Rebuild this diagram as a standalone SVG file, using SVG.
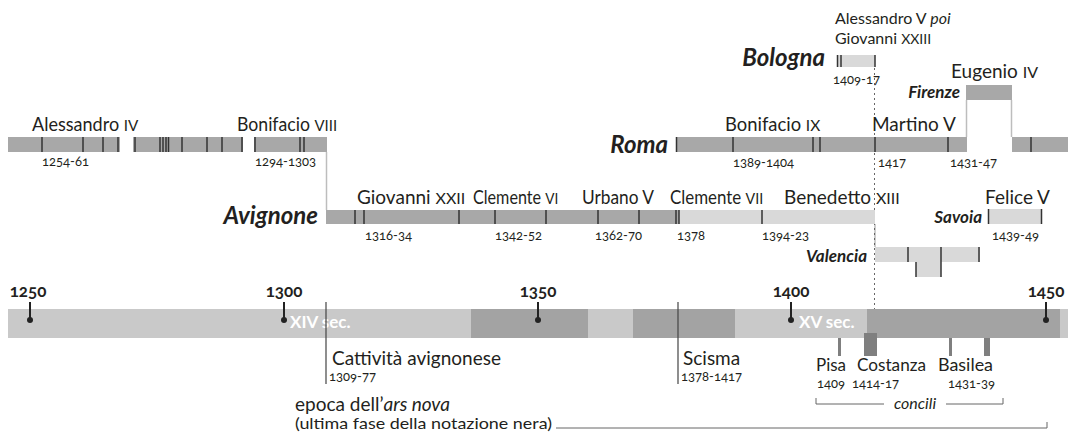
<svg xmlns="http://www.w3.org/2000/svg" width="1068" height="434" viewBox="0 0 1068 434">
<style>
text{font-family:Lato,"Open Sans","Liberation Sans",sans-serif;fill:#231f20}
.n{font-size:19px}
.c{font-size:17px}
.sc{font-size:16px}
.d{font-size:13px;font-variant-numeric:oldstyle-nums}
.p{font-size:24px;font-weight:bold;font-style:italic}
.ps{font-size:17px;font-weight:bold;font-style:italic}
.yr{font-size:17px;font-weight:bold;text-anchor:middle;font-variant-numeric:oldstyle-nums}
.sec{font-size:17px;font-weight:bold;fill:#ffffff}
.dk{fill:#a8a8a8}
.lt{fill:#d9d9d9}
.tl{fill:#c9c9c9}
.td{fill:#a3a3a3}
.cb{fill:#7f7f7f}
.tk{stroke:#333;stroke-width:1.5}
.conn{stroke:#bdbdbd;stroke-width:1.5;fill:none}
.ln{stroke:#444;stroke-width:1.2;fill:none}
.thin{stroke:#666;stroke-width:1;fill:none}
.dot{stroke:#666;stroke-width:1;stroke-dasharray:2 3;fill:none}
.pin{stroke:#222;stroke-width:2}
</style>

<g id="connectors">
  <line class="conn" x1="326.5" y1="152" x2="326.5" y2="210"/>
  <line class="conn" x1="875" y1="224" x2="875" y2="247"/>
  <line class="conn" x1="966.5" y1="100" x2="966.5" y2="137"/>
  <line class="conn" x1="1011.5" y1="100" x2="1011.5" y2="137"/>
  <line class="dot" x1="874.5" y1="68" x2="874.5" y2="309"/>
</g>

<g id="early-rome">
  <rect class="dk" x="8" y="137" width="112" height="15"/>
  <rect class="dk" x="133" y="137" width="110" height="15"/>
  <rect class="dk" x="254" y="137" width="73" height="15"/>
  <g class="tk">
    <line x1="42" y1="137" x2="42" y2="152"/><line x1="83" y1="137" x2="83" y2="152"/>
    <line x1="103" y1="137" x2="103" y2="152"/><line x1="118" y1="137" x2="118" y2="152"/>
    <line x1="135" y1="137" x2="135" y2="152"/><line x1="160" y1="137" x2="160" y2="152"/>
    <line x1="163" y1="137" x2="163" y2="152"/><line x1="166" y1="137" x2="166" y2="152"/>
    <line x1="168.5" y1="137" x2="168.5" y2="152"/><line x1="182" y1="137" x2="182" y2="152"/>
    <line x1="207" y1="137" x2="207" y2="152"/><line x1="222" y1="137" x2="222" y2="152"/>
    <line x1="242" y1="137" x2="242" y2="152"/><line x1="255" y1="137" x2="255" y2="152"/>
    <line x1="300" y1="137" x2="300" y2="152"/><line x1="304" y1="137" x2="304" y2="152"/>
  </g>
  <text class="n" transform="translate(32,131) scale(0.95,1)">Alessandro <tspan class="sc">IV</tspan></text>
  <text class="n" transform="translate(237,131) scale(0.93,1)">Bonifacio <tspan class="sc">VIII</tspan></text>
  <text class="d" x="42" y="166">1254-61</text>
  <text class="d" x="255" y="166">1294-1303</text>
</g>

<g id="roma">
  <text class="p" x="668" y="153" text-anchor="end" font-size="25px">Roma</text>
  <rect class="dk" x="676" y="137" width="291" height="15"/>
  <rect class="dk" x="1012" y="137" width="56" height="15"/>
  <g class="tk">
    <line x1="676.5" y1="137" x2="676.5" y2="152"/><line x1="733" y1="137" x2="733" y2="152"/>
    <line x1="813" y1="137" x2="813" y2="152"/><line x1="820" y1="137" x2="820" y2="152"/>
    <line x1="875" y1="137" x2="875" y2="152"/><line x1="948" y1="137" x2="948" y2="152"/>
    <line x1="1031" y1="137" x2="1031" y2="152"/>
  </g>
  <text class="n" transform="translate(725,131) scale(0.97,1)">Bonifacio <tspan class="sc">IX</tspan></text>
  <text class="n" x="872" y="131">Martino V</text>
  <text class="d" x="733" y="167">1389-1404</text>
  <text class="d" x="878" y="167">1417</text>
  <text class="d" x="950" y="167">1431-47</text>
</g>

<g id="firenze">
  <rect class="dk" x="966" y="85" width="46" height="15"/>
  <text class="ps" x="960" y="98" text-anchor="end" font-size="16px">Firenze</text>
  <text class="n" x="951" y="78">Eugenio <tspan class="sc">IV</tspan></text>
</g>

<g id="bologna">
  <text class="p" x="825" y="66" text-anchor="end">Bologna</text>
  <rect class="lt" x="837" y="55" width="38" height="12"/>
  <g class="tk">
    <line x1="837.5" y1="55" x2="837.5" y2="67"/><line x1="841" y1="55" x2="841" y2="67"/>
    <line x1="875" y1="55" x2="875" y2="67"/>
  </g>
  <text class="sc" x="835" y="24">Alessandro V <tspan font-style="italic">poi</tspan></text>
  <text class="sc" x="835" y="44">Giovanni <tspan font-size="14px">XXIII</tspan></text>
  <text class="d" x="833" y="84">1409-17</text>
</g>

<g id="avignone">
  <text class="p" x="318" y="224" text-anchor="end">Avignone</text>
  <rect class="dk" x="326" y="210" width="353" height="14"/>
  <rect class="lt" x="679" y="210" width="196" height="14"/>
  <g class="tk">
    <line x1="355" y1="210" x2="355" y2="224"/><line x1="364" y1="210" x2="364" y2="224"/>
    <line x1="459" y1="210" x2="459" y2="224"/><line x1="495" y1="210" x2="495" y2="224"/>
    <line x1="546" y1="210" x2="546" y2="224"/><line x1="598" y1="210" x2="598" y2="224"/>
    <line x1="639" y1="210" x2="639" y2="224"/><line x1="676" y1="210" x2="676" y2="224"/>
    <line x1="679" y1="210" x2="679" y2="224"/><line x1="762" y1="210" x2="762" y2="224"/>
  </g>
  <text class="n" x="357" y="204">Giovanni <tspan class="sc">XXII</tspan></text>
  <text class="n" transform="translate(473,204) scale(0.85,1)">Clemente <tspan class="sc">VI</tspan></text>
  <text class="n" transform="translate(582,204) scale(0.91,1)">Urbano V</text>
  <text class="n" transform="translate(670,204) scale(0.89,1)">Clemente <tspan class="sc">VII</tspan></text>
  <text class="n" x="784" y="204">Benedetto <tspan class="sc">XIII</tspan></text>
  <text class="d" x="365" y="240">1316-34</text>
  <text class="d" x="495" y="240">1342-52</text>
  <text class="d" x="595" y="240">1362-70</text>
  <text class="d" x="677" y="240">1378</text>
  <text class="d" x="762" y="240">1394-23</text>
</g>

<g id="valencia">
  <text class="ps" x="867" y="262" text-anchor="end" font-size="18px">Valencia</text>
  <rect class="lt" x="875" y="247" width="105" height="15"/>
  <rect class="lt" x="916" y="262" width="25" height="15"/>
  <g class="tk">
    <line x1="908" y1="247" x2="908" y2="262"/><line x1="941" y1="247" x2="941" y2="277"/>
    <line x1="979" y1="247" x2="979" y2="262"/><line x1="916" y1="262" x2="916" y2="277"/>
  </g>
</g>

<g id="savoia">
  <text class="ps" x="982" y="223" text-anchor="end" font-size="18.5px">Savoia</text>
  <rect class="lt" x="988" y="209" width="54" height="15"/>
  <g class="tk">
    <line x1="988.5" y1="209" x2="988.5" y2="224"/><line x1="1041.5" y1="209" x2="1041.5" y2="224"/>
  </g>
  <text class="n" x="985" y="204">Felice V</text>
  <text class="d" x="992" y="240">1439-49</text>
</g>

<g id="timeline">
  <rect class="tl" x="8" y="309" width="1060" height="29"/>
  <rect class="td" x="471" y="309" width="117" height="29"/>
  <rect class="td" x="633" y="309" width="102" height="29"/>
  <rect class="td" x="867" y="309" width="193" height="29"/>
  <text class="sec" x="290" y="328">XIV sec.</text>
  <text class="sec" x="799" y="328">XV sec.</text>
  <g class="pin">
    <line x1="30" y1="302" x2="30" y2="319"/><line x1="284" y1="302" x2="284" y2="319"/>
    <line x1="538" y1="302" x2="538" y2="319"/><line x1="791" y1="302" x2="791" y2="319"/>
    <line x1="1046" y1="302" x2="1046" y2="319"/>
  </g>
  <g fill="#222">
    <circle cx="30" cy="320" r="3"/><circle cx="284" cy="320" r="3"/>
    <circle cx="538" cy="320" r="3"/><circle cx="791" cy="320" r="3"/>
    <circle cx="1046" cy="320" r="3"/>
  </g>
  <text class="yr" x="28" y="297">1250</text>
  <text class="yr" x="284" y="297">1300</text>
  <text class="yr" x="538" y="297">1350</text>
  <text class="yr" x="791" y="297">1400</text>
  <text class="yr" x="1046" y="297">1450</text>
</g>

<g id="cattivita">
  <line class="ln" x1="326" y1="302" x2="326" y2="384"/>
  <text class="n" x="332" y="365" font-size="20px">Cattività avignonese</text>
  <text class="d" x="329" y="381">1309-77</text>
</g>

<g id="scisma">
  <line class="ln" x1="678" y1="302" x2="678" y2="384"/>
  <text class="n" x="683" y="365">Scisma</text>
  <text class="d" x="681" y="381">1378-1417</text>
</g>

<g id="concili">
  <rect class="cb" x="838" y="338" width="3" height="18"/>
  <rect class="cb" x="864" y="333" width="13" height="23"/>
  <rect class="cb" x="949" y="338" width="3" height="18"/>
  <rect class="cb" x="984" y="338" width="6" height="18"/>
  <text class="c" x="816" y="371">Pisa</text>
  <text class="c" x="857" y="371" textLength="69" lengthAdjust="spacingAndGlyphs">Costanza</text>
  <text class="c" x="938" y="371" textLength="55" lengthAdjust="spacingAndGlyphs">Basilea</text>
  <text class="d" x="817" y="388">1409</text>
  <text class="d" x="852" y="388">1414-17</text>
  <text class="d" x="948" y="388">1431-39</text>
  <path class="thin" d="M816 398V404H884M946 404H1003V398"/>
  <text class="sc" x="915" y="409" text-anchor="middle" font-style="italic">concili</text>
</g>

<g id="ars-nova">
  <text class="n" x="295" y="411" font-size="20.5px">epoca dell’<tspan font-style="italic">ars nova</tspan></text>
  <text class="sc" x="295" y="429" textLength="257" lengthAdjust="spacingAndGlyphs">(ultima fase della notazione nera)</text>
  <path class="thin" d="M556 428H1047V422"/>
</g>
</svg>
